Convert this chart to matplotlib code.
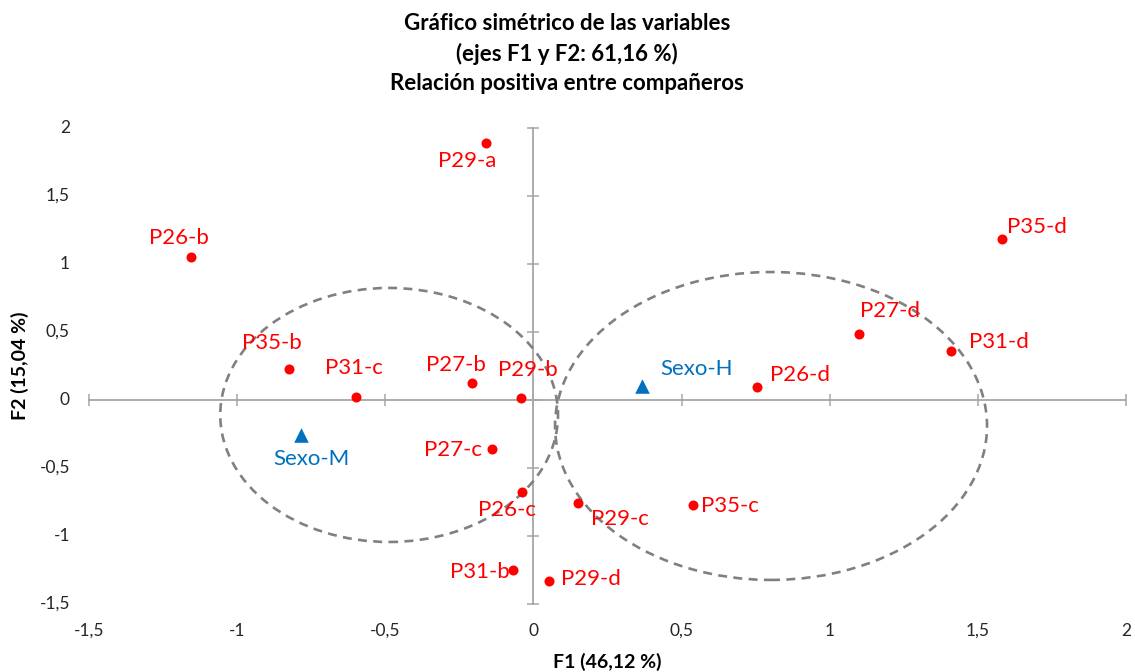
import matplotlib
matplotlib.use("Agg")
import matplotlib.pyplot as plt
from matplotlib.patches import Ellipse
import matplotlib.transforms as mtransforms

plt.rcParams['font.family'] = ['Lato', 'DejaVu Sans']

# ---------------- data ----------------
var_labels = ["P29-a", "P26-b", "P35-b", "P31-c", "P27-b", "P29-b", "P27-c", "P26-c",
              "P31-b", "P29-d", "P29-c", "P35-c", "P26-d", "P27-d", "P31-d", "P35-d"]
var_f1 = [-0.160, -1.156, -0.825, -0.599, -0.206, -0.042, -0.140, -0.037,
          -0.069, 0.052, 0.150, 0.538, 0.754, 1.098, 1.409, 1.581]
var_f2 = [1.89, 1.05, 0.228, 0.022, 0.125, 0.015, -0.360, -0.676,
          -1.250, -1.331, -0.757, -0.772, 0.096, 0.485, 0.360, 1.184]

sup_labels = ["Sexo-M", "Sexo-H"]
sup_f1 = [-0.785, 0.366]
sup_f2 = [-0.257, 0.103]

# ellipses: centre F1, centre F2, semi-axis F1, semi-axis F2
ell_cx = [-0.487, 0.802]
ell_cy = [-0.110, -0.191]
ell_ax = [0.570, 0.729]
ell_ay = [0.934, 1.132]

xticks = [-1.5, -1, -0.5, 0, 0.5, 1, 1.5, 2]
xtick_labels = ["-1,5", "-1", "-0,5", "0", "0,5", "1", "1,5", "2"]
yticks = [-1.5, -1, -0.5, 0, 0.5, 1, 1.5, 2]
ytick_labels = ["-1,5", "-1", "-0,5", "0", "0,5", "1", "1,5", "2"]

title_lines = ["Gráfico simétrico de las variables",
               "(ejes F1 y F2: 61,16 %)",
               "Relación positiva entre compañeros"]
xlabel = "F1 (46,12 %)"
ylabel = "F2 (15,04 %)"

# label offsets (pixels, label centre relative to point, y up)
label_off = {
    "P29-a": (-19, -18), "P26-b": (-12, 19), "P35-b": (-17, 26), "P31-c": (-2, 29),
    "P27-b": (-16, 18), "P29-b": (7, 28), "P27-c": (-39, -1), "P26-c": (-15, -18),
    "P31-b": (-33, -2), "P29-d": (42, 2), "P29-c": (42, -16), "P35-c": (37, -1),
    "P26-d": (43, 12), "P27-d": (31, 23), "P31-d": (48, 9), "P35-d": (35, 12),
    "Sexo-M": (11, -24), "Sexo-H": (55, 17),
}

RED = "#FF0000"
BLUE = "#0070C0"
AXCOL = "#A6A6A6"
TXT = "#262626"

W, H = 1135, 672
fig = plt.figure(figsize=(W / 100, H / 100), dpi=100)
ax = fig.add_axes([89 / W, (H - 604) / H, (1126 - 89) / W, (604 - 128) / H])
ax.set_xlim(-1.5, 2)
ax.set_ylim(-1.5, 2)

for s in ("top", "right"):
    ax.spines[s].set_visible(False)
ax.spines["left"].set_position(("data", 0))
ax.spines["bottom"].set_position(("data", 0))
for s in ("left", "bottom"):
    ax.spines[s].set_color(AXCOL)
    ax.spines[s].set_linewidth(1.3)
    ax.spines[s].set_zorder(1)
ax.set_xticks(xticks)
ax.set_yticks(yticks)
ax.tick_params(axis="both", direction="inout", length=8, width=1.1, color=AXCOL,
               labelbottom=False, labelleft=False)

# tick labels at plot edges
tx = mtransforms.blended_transform_factory(ax.transData, ax.transAxes)
ty = mtransforms.blended_transform_factory(ax.transAxes, ax.transData)
offx = mtransforms.ScaledTranslation(0, -27 / 100, fig.dpi_scale_trans)
offy = mtransforms.ScaledTranslation(-19 / 100, 0, fig.dpi_scale_trans)
for v, lab in zip(xticks, xtick_labels):
    ax.text(v, 0, lab, transform=tx + offx, ha="center", va="center",
            fontsize=12.5, color=TXT, clip_on=False)
for v, lab in zip(yticks, ytick_labels):
    ax.text(0, v, lab, transform=ty + offy, ha="right", va="center",
            fontsize=12.5, color=TXT, clip_on=False)

# ellipses
for cx, cy, a, b in zip(ell_cx, ell_cy, ell_ax, ell_ay):
    e = Ellipse((cx, cy), 2 * a, 2 * b, fill=False, edgecolor="#808080",
                linewidth=1.9, linestyle=(0, (3.4, 2.4)), zorder=2)
    ax.add_patch(e)

# points
ax.scatter(var_f1, var_f2, s=52, color=RED, zorder=3, linewidths=0)
ax.scatter(sup_f1, sup_f2, s=110, color=BLUE, marker="^", zorder=3, linewidths=0)

for lab, x, y in zip(var_labels, var_f1, var_f2):
    dx, dy = label_off[lab]
    ax.annotate(lab, (x, y), xytext=(dx, dy), textcoords="offset pixels",
                ha="center", va="center", fontsize=16, color=RED, zorder=4)
for lab, x, y in zip(sup_labels, sup_f1, sup_f2):
    dx, dy = label_off[lab]
    ax.annotate(lab, (x, y), xytext=(dx, dy), textcoords="offset pixels",
                ha="center", va="center", fontsize=16, color=BLUE, zorder=4)

# titles
for i, line in enumerate(title_lines):
    fig.text(567 / W, 1 - (24 + 29.5 * i) / H, line, ha="center", va="center",
             fontsize=16, fontweight="bold", color="black")

fig.text(607 / W, 1 - 662 / H, xlabel, ha="center", va="center",
         fontsize=14, fontweight="bold", color="black")
fig.text(20 / W, 1 - 366 / H, ylabel, ha="center", va="center", rotation=90,
         fontsize=14, fontweight="bold", color="black")

fig.savefig("out.png", dpi=100)
